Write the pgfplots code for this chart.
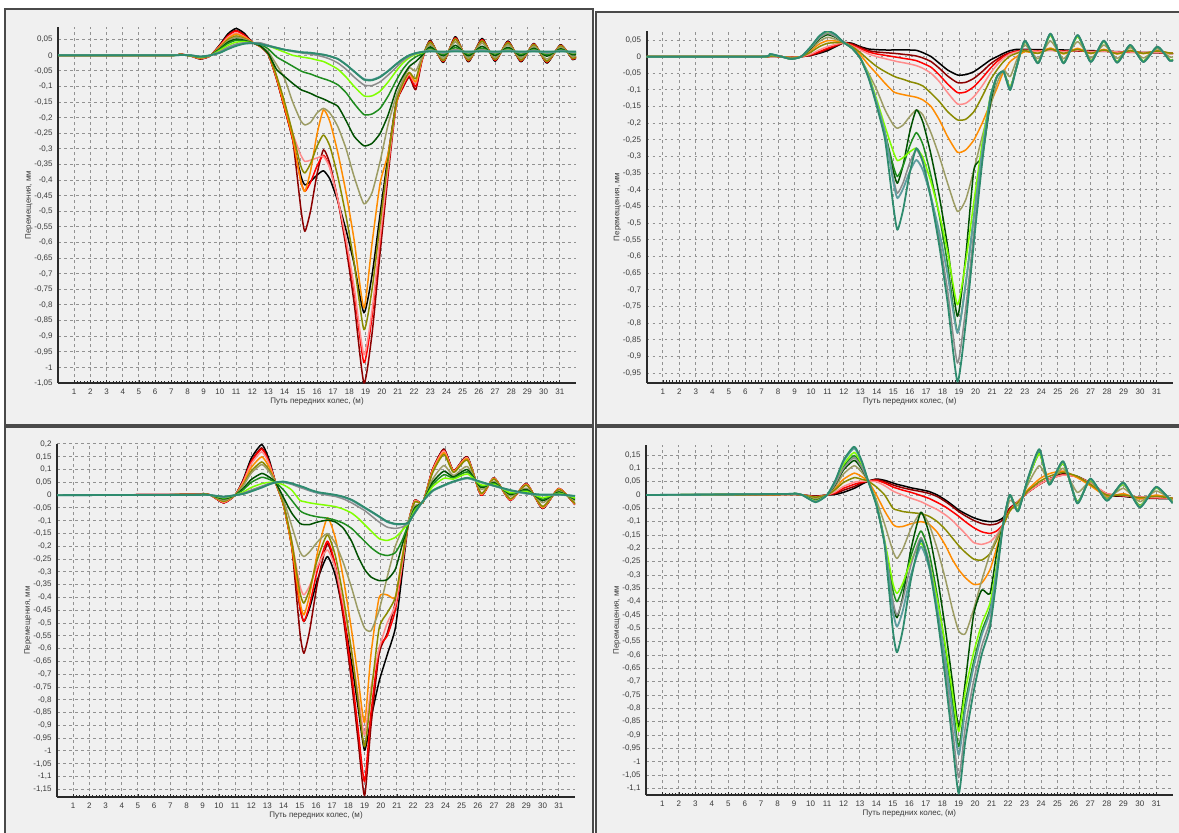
\documentclass[border=0pt]{standalone}
\usepackage{fontspec}
\setmainfont{Liberation Sans}
\usepackage{pgfplots}
\usepackage{pgfplotstable}
\pgfplotsset{compat=1.18}
\definecolor{bgc}{HTML}{F0F0F0}
\definecolor{bdc}{HTML}{4A4A4A}
\definecolor{axc}{HTML}{2A2A2A}
\definecolor{grc}{HTML}{929292}
\definecolor{txc}{HTML}{3A3A3A}
\definecolor{cK}{HTML}{000000}
\definecolor{cM}{HTML}{8B0000}
\definecolor{cR}{HTML}{FF0000}
\definecolor{cP}{HTML}{FF8C8C}
\definecolor{cO}{HTML}{FF8C00}
\definecolor{cOl}{HTML}{8A8A00}
\definecolor{cKh}{HTML}{9C9C64}
\definecolor{cDg}{HTML}{005000}
\definecolor{cG}{HTML}{1E8C1E}
\definecolor{cL}{HTML}{80FF00}
\definecolor{cGr}{HTML}{8C8C8C}
\definecolor{cCb}{HTML}{5F9EA0}
\definecolor{cSg}{HTML}{2E8B6E}

\pgfplotstableread[header=false]{
x 0 7 7.5 8.2 8.8 9.4 10 10.5 11 11.5 12 12.5 13 13.5 14 14.5 15 15.25 15.6 16 16.4 16.8 17.3 17.8 18.3 18.9 19.4 19.9 20.4 20.9 21.3 21.7 22.1 22.5 23 23.8 24.55 25.35 26.2 27 27.8 28.6 29.4 30.2 31.05 31.8 32
k 0 0 0.004 -0.002 -0.012 -0.002 0.034 0.069 0.086 0.071 0.042 0.028 0.002 -0.075 -0.17 -0.27 -0.386 -0.415 -0.404 -0.384 -0.37 -0.397 -0.47 -0.561 -0.67 -0.825 -0.705 -0.508 -0.317 -0.148 -0.1 -0.065 -0.09 -0.01 0.048 -0.023 0.060 -0.021 0.054 -0.019 0.046 -0.021 0.038 -0.025 0.034 -0.014 -0.007
m 0 0 0.004 -0.002 -0.011 -0.002 0.032 0.064 0.08 0.066 0.042 0.028 0.002 -0.075 -0.17 -0.27 -0.49 -0.564 -0.499 -0.381 -0.303 -0.348 -0.467 -0.617 -0.796 -1.05 -0.892 -0.632 -0.38 -0.157 -0.105 -0.07 -0.11 -0.015 0.045 -0.02 0.056 -0.018 0.05 -0.016 0.043 -0.018 0.036 -0.022 0.032 -0.012 -0.005
r 0 0 0.004 -0.002 -0.011 -0.002 0.031 0.062 0.078 0.064 0.042 0.028 0.002 -0.075 -0.17 -0.27 -0.403 -0.436 -0.407 -0.355 -0.32 -0.36 -0.466 -0.599 -0.759 -0.985 -0.838 -0.596 -0.362 -0.155 -0.1 -0.065 -0.1 -0.012 0.045 -0.02 0.056 -0.018 0.05 -0.016 0.043 -0.018 0.036 -0.022 0.032 -0.012 -0.005
p 0 0 0.003 -0.002 -0.01 -0.002 0.029 0.058 0.072 0.06 0.042 0.028 0.003 -0.07 -0.16 -0.25 -0.32 -0.34 -0.336 -0.329 -0.324 -0.362 -0.464 -0.591 -0.744 -0.96 -0.817 -0.582 -0.355 -0.154 -0.095 -0.06 -0.09 -0.01 0.042 -0.017 0.052 -0.015 0.046 -0.013 0.04 -0.015 0.034 -0.019 0.03 -0.01 -0.003
o 0 0 0.003 -0.002 -0.009 -0.001 0.027 0.054 0.068 0.058 0.042 0.028 0.004 -0.07 -0.165 -0.265 -0.403 -0.436 -0.371 -0.253 -0.175 -0.213 -0.315 -0.442 -0.594 -0.81 -0.603 -0.41 -0.313 -0.155 -0.09 -0.055 -0.085 -0.008 0.042 -0.017 0.052 -0.015 0.046 -0.013 0.04 -0.015 0.034 -0.019 0.03 -0.01 -0.003
ol 0 0 0.003 -0.001 -0.008 -0.001 0.025 0.05 0.062 0.054 0.041 0.029 0.005 -0.065 -0.15 -0.25 -0.355 -0.377 -0.347 -0.292 -0.255 -0.292 -0.392 -0.517 -0.667 -0.879 -0.75 -0.537 -0.333 -0.15 -0.09 -0.055 -0.075 -0.005 0.042 -0.017 0.052 -0.015 0.046 -0.013 0.04 -0.015 0.034 -0.019 0.03 -0.01 -0.003
kh 0 0 0.003 -0.001 -0.007 -0.001 0.023 0.046 0.058 0.052 0.041 0.03 0.01 -0.03 -0.075 -0.15 -0.21 -0.223 -0.215 -0.185 -0.17 -0.185 -0.23 -0.3 -0.39 -0.476 -0.44 -0.34 -0.22 -0.13 -0.08 -0.04 -0.05 -0.005 0.035 -0.01 0.043 -0.009 0.039 -0.008 0.034 -0.009 0.029 -0.012 0.026 -0.005 0
dg 0 0 0.002 -0.001 -0.006 -0.001 0.021 0.042 0.052 0.048 0.04 0.03 0.005 -0.045 -0.068 -0.09 -0.11 -0.115 -0.122 -0.132 -0.14 -0.15 -0.164 -0.21 -0.26 -0.29 -0.282 -0.25 -0.19 -0.11 -0.068 -0.036 -0.02 0 0.027 -0.002 0.032 -0.002 0.029 -0.001 0.026 -0.002 0.023 -0.003 0.021 0.001 0.004
g 0 0 0.002 -0.001 -0.005 -0.001 0.019 0.038 0.048 0.046 0.04 0.035 0.02 -0.005 -0.02 -0.035 -0.05 -0.055 -0.06 -0.068 -0.075 -0.082 -0.095 -0.12 -0.155 -0.19 -0.188 -0.17 -0.13 -0.08 -0.045 -0.02 -0.005 0.005 0.022 0.002 0.025 0.003 0.023 0.004 0.021 0.003 0.019 0.002 0.018 0.005 0.007
l 0 0 0.002 -0.001 -0.005 -0.001 0.016 0.032 0.042 0.043 0.04 0.038 0.03 0.02 0.01 0 -0.005 -0.007 -0.01 -0.015 -0.02 -0.03 -0.045 -0.07 -0.1 -0.13 -0.13 -0.115 -0.085 -0.05 -0.025 -0.008 0.003 0.008 0.017 0.007 0.019 0.008 0.018 0.008 0.017 0.008 0.016 0.007 0.015 0.008 0.009
gr 0 0 0.001 0 -0.004 0 0.012 0.026 0.036 0.04 0.04 0.04 0.032 0.025 0.018 0.012 0.008 0.006 0.004 0 -0.005 -0.012 -0.025 -0.045 -0.07 -0.095 -0.097 -0.085 -0.063 -0.038 -0.018 -0.004 0.005 0.01 0.017 0.007 0.019 0.008 0.018 0.008 0.017 0.008 0.016 0.007 0.015 0.008 0.009
cb 0 0 0.001 0 -0.004 0 0.009 0.021 0.032 0.038 0.039 0.036 0.03 0.024 0.018 0.014 0.01 0.009 0.008 0.005 0.002 -0.003 -0.012 -0.03 -0.052 -0.076 -0.078 -0.068 -0.05 -0.028 -0.012 0 0.007 0.011 0.014 0.01 0.014 0.011 0.014 0.011 0.014 0.011 0.013 0.01 0.013 0.011 0.011
sg 0 0 0.001 0 -0.004 0 0.008 0.02 0.03 0.037 0.039 0.036 0.03 0.024 0.018 0.014 0.01 0.009 0.008 0.005 0.002 -0.003 -0.012 -0.03 -0.052 -0.078 -0.08 -0.07 -0.05 -0.028 -0.012 0 0.007 0.011 0.012 0.012 0.012 0.012 0.012 0.012 0.012 0.012 0.012 0.012 0.012 0.012 0.012
}\TLraw

\pgfplotstableread[header=false]{
x 0 7 7.5 8.2 8.8 9.4 10 10.5 11 11.5 12 12.5 13 13.5 14 14.5 15 15.25 15.6 16 16.4 16.8 17.3 17.8 18.3 18.9 19.4 19.9 20.4 20.9 21.3 21.7 22.1 22.5 23 23.8 24.55 25.35 26.2 27 27.8 28.6 29.4 30.2 31.05 31.8 32
k 0 0 0.001 0 -0.002 0 0.004 0.01 0.018 0.03 0.042 0.04 0.03 0.023 0.021 0.02 0.02 0.02 0.02 0.02 0.019 0.012 0 -0.02 -0.04 -0.055 -0.054 -0.045 -0.028 -0.01 0 0.01 0.018 0.022 0.022 0.021 0.021 0.02 0.019 0.018 0.017 0.015 0.014 0.012 0.012 0.01 0.01
m 0 0 0.001 0 -0.002 0 0.004 0.012 0.022 0.032 0.042 0.038 0.028 0.018 0.014 0.012 0.01 0.009 0.007 0.005 0.002 -0.004 -0.015 -0.035 -0.058 -0.078 -0.077 -0.065 -0.045 -0.022 -0.008 0.004 0.012 0.017 0.019 0.018 0.019 0.017 0.017 0.016 0.016 0.014 0.013 0.012 0.012 0.01 0.01
r 0 0 0.001 0 -0.002 0 0.006 0.015 0.025 0.034 0.042 0.035 0.024 0.014 0.008 0.004 0 -0.002 -0.005 -0.008 -0.012 -0.02 -0.032 -0.055 -0.082 -0.108 -0.106 -0.09 -0.064 -0.035 -0.015 0 0.01 0.016 0.019 0.017 0.02 0.016 0.019 0.015 0.017 0.014 0.014 0.012 0.013 0.01 0.01
p 0 0 0.001 0 -0.002 0 0.008 0.02 0.03 0.037 0.042 0.032 0.02 0.008 0 -0.006 -0.012 -0.015 -0.018 -0.022 -0.027 -0.035 -0.05 -0.075 -0.108 -0.142 -0.14 -0.12 -0.088 -0.05 -0.025 -0.005 0.008 0.014 0.019 0.016 0.02 0.015 0.019 0.015 0.017 0.014 0.014 0.012 0.013 0.01 0.01
o 0 0 0.002 0 -0.003 0 0.019 0.038 0.048 0.047 0.042 0.028 0.005 -0.025 -0.052 -0.08 -0.105 -0.11 -0.114 -0.118 -0.122 -0.13 -0.15 -0.19 -0.24 -0.287 -0.28 -0.25 -0.2 -0.14 -0.095 -0.045 -0.015 0 0.015 0.01 0.026 0.008 0.025 0.009 0.022 0.008 0.019 0.009 0.018 0.01 0.01
ol 0 0 0.002 0 -0.003 0 0.014 0.03 0.04 0.042 0.042 0.03 0.012 -0.01 -0.03 -0.045 -0.058 -0.063 -0.068 -0.075 -0.08 -0.088 -0.11 -0.135 -0.165 -0.19 -0.188 -0.165 -0.12 -0.07 -0.04 -0.015 0.002 0.01 0.018 0.01 0.023 0.01 0.022 0.01 0.02 0.009 0.018 0.01 0.017 0.011 0.011
kh 0 0 0.004 0 -0.005 0 0.023 0.046 0.058 0.052 0.042 0.025 -0.005 -0.05 -0.1 -0.16 -0.205 -0.215 -0.205 -0.18 -0.16 -0.175 -0.23 -0.3 -0.38 -0.465 -0.43 -0.34 -0.24 -0.15 -0.08 -0.04 -0.06 -0.01 0.035 -0.006 0.047 -0.006 0.045 -0.004 0.035 -0.005 0.027 -0.004 0.024 -0.001 0
dg 0 0 0.006 0 -0.007 0 0.026 0.053 0.066 0.058 0.042 0.025 -0.005 -0.06 -0.14 -0.23 -0.343 -0.38 -0.325 -0.226 -0.16 -0.197 -0.296 -0.42 -0.569 -0.78 -0.6 -0.34 -0.3 -0.14 -0.06 -0.045 -0.095 -0.03 0.046 -0.018 0.066 -0.018 0.062 -0.014 0.046 -0.016 0.034 -0.014 0.029 -0.01 -0.009
g 0 0 0.006 0 -0.007 0 0.028 0.056 0.07 0.06 0.042 0.025 -0.005 -0.06 -0.14 -0.23 -0.328 -0.36 -0.327 -0.268 -0.228 -0.264 -0.36 -0.479 -0.623 -0.826 -0.681 -0.478 -0.282 -0.122 -0.06 -0.045 -0.095 -0.03 0.046 -0.018 0.066 -0.018 0.062 -0.014 0.046 -0.016 0.034 -0.014 0.029 -0.01 -0.009
l 0 0 0.006 0 -0.007 0 0.029 0.058 0.073 0.062 0.042 0.025 -0.005 -0.055 -0.13 -0.21 -0.285 -0.312 -0.303 -0.286 -0.275 -0.303 -0.378 -0.472 -0.585 -0.745 -0.616 -0.435 -0.261 -0.119 -0.06 -0.045 -0.09 -0.03 0.045 -0.017 0.064 -0.017 0.06 -0.013 0.045 -0.015 0.033 -0.013 0.029 -0.009 -0.008
gr 0 0 0.007 0 -0.007 0 0.028 0.056 0.07 0.06 0.042 0.025 -0.005 -0.06 -0.14 -0.23 -0.365 -0.41 -0.378 -0.319 -0.28 -0.318 -0.421 -0.549 -0.702 -0.92 -0.756 -0.526 -0.305 -0.125 -0.06 -0.045 -0.095 -0.03 0.048 -0.02 0.069 -0.02 0.065 -0.016 0.048 -0.018 0.035 -0.016 0.03 -0.012 -0.01
cb 0 0 0.008 0 -0.007 0 0.03 0.061 0.076 0.064 0.042 0.025 -0.005 -0.06 -0.14 -0.23 -0.376 -0.425 -0.396 -0.345 -0.31 -0.341 -0.424 -0.528 -0.653 -0.83 -0.684 -0.48 -0.283 -0.122 -0.06 -0.045 -0.1 -0.03 0.048 -0.02 0.069 -0.02 0.065 -0.016 0.048 -0.018 0.035 -0.016 0.03 -0.012 -0.01
sg 0 0 0.008 0 -0.007 0 0.031 0.062 0.078 0.066 0.042 0.025 -0.005 -0.065 -0.15 -0.25 -0.448 -0.52 -0.459 -0.349 -0.275 -0.317 -0.429 -0.569 -0.738 -0.976 -0.801 -0.556 -0.319 -0.126 -0.06 -0.045 -0.1 -0.03 0.048 -0.02 0.069 -0.02 0.065 -0.016 0.048 -0.018 0.035 -0.016 0.03 -0.012 -0.01
}\TRraw

\pgfplotstableread[header=false]{
x 0 8.5 9 9.5 10.3 11 11.5 12 12.65 13.1 13.5 14 14.5 15 15.25 15.6 16.1 16.7 17.2 17.7 18.2 18.6 19 19.4 19.9 20.4 20.9 21.3 21.7 22.1 22.6 23.2 23.9 24.5 25.35 26.2 27 28 29 30 31 32
k 0 0.003 0.006 0 -0.03 0 0.06 0.144 0.198 0.14 0.05 -0.04 -0.2 -0.435 -0.494 -0.443 -0.329 -0.24 -0.316 -0.467 -0.656 -0.83 -0.997 -0.872 -0.728 -0.624 -0.52 -0.32 -0.114 -0.02 -0.03 0.1 0.18 0.095 0.15 0 0.068 -0.02 0.045 -0.052 0.026 -0.037
m 0 0.003 0.006 0 -0.03 0 0.056 0.133 0.185 0.131 0.05 -0.04 -0.2 -0.534 -0.618 -0.532 -0.34 -0.19 -0.289 -0.486 -0.732 -0.958 -1.175 -0.9 -0.62 -0.54 -0.42 -0.27 -0.11 -0.02 -0.03 0.1 0.18 0.095 0.15 0 0.068 -0.02 0.045 -0.052 0.026 -0.037
r 0 0.003 0.006 0 -0.03 0 0.054 0.13 0.18 0.128 0.05 -0.04 -0.2 -0.435 -0.494 -0.431 -0.29 -0.18 -0.274 -0.462 -0.697 -0.913 -1.12 -0.85 -0.6 -0.55 -0.45 -0.29 -0.11 -0.02 -0.03 0.1 0.175 0.095 0.145 0 0.066 -0.02 0.044 -0.05 0.026 -0.036
p 0 0.003 0.005 0 -0.028 0 0.051 0.122 0.17 0.122 0.05 -0.035 -0.18 -0.352 -0.39 -0.355 -0.276 -0.214 -0.286 -0.431 -0.612 -0.779 -0.938 -0.75 -0.6 -0.5 -0.43 -0.28 -0.11 -0.022 -0.03 0.096 0.173 0.093 0.146 0.003 0.066 -0.018 0.043 -0.049 0.025 -0.035
o 0 0.002 0.005 0 -0.025 0 0.045 0.108 0.15 0.11 0.05 -0.04 -0.2 -0.414 -0.468 -0.392 -0.222 -0.089 -0.169 -0.329 -0.529 -0.713 -0.889 -0.62 -0.4 -0.39 -0.4 -0.25 -0.11 -0.025 -0.03 0.092 0.166 0.091 0.142 0.005 0.065 -0.016 0.041 -0.047 0.024 -0.034
ol 0 0.002 0.005 0 -0.024 0 0.039 0.094 0.13 0.098 0.05 -0.035 -0.18 -0.378 -0.422 -0.369 -0.248 -0.155 -0.238 -0.404 -0.611 -0.802 -0.984 -0.78 -0.52 -0.46 -0.4 -0.26 -0.11 -0.027 -0.029 0.087 0.159 0.089 0.137 0.008 0.063 -0.014 0.039 -0.044 0.022 -0.032
kh 0 0.002 0.004 0 -0.02 0 0.036 0.086 0.12 0.092 0.05 -0.02 -0.12 -0.22 -0.24 -0.222 -0.182 -0.15 -0.189 -0.266 -0.362 -0.45 -0.52 -0.53 -0.45 -0.32 -0.2 -0.14 -0.1 -0.042 -0.028 0.062 0.116 0.077 0.112 0.023 0.054 -0.003 0.027 -0.029 0.015 -0.022
dg 0 0.002 0.003 0 -0.015 0 0.026 0.061 0.085 0.071 0.05 -0.01 -0.07 -0.11 -0.115 -0.115 -0.105 -0.098 -0.105 -0.13 -0.18 -0.24 -0.29 -0.32 -0.334 -0.33 -0.29 -0.2 -0.115 -0.05 -0.027 0.05 0.094 0.071 0.1 0.03 0.049 0.003 0.022 -0.021 0.012 -0.017
g 0 0.001 0.003 0 -0.012 0 0.021 0.05 0.07 0.062 0.05 0.02 -0.02 -0.06 -0.07 -0.078 -0.085 -0.09 -0.098 -0.11 -0.13 -0.155 -0.18 -0.205 -0.228 -0.236 -0.225 -0.18 -0.115 -0.055 -0.027 0.041 0.08 0.067 0.091 0.035 0.046 0.007 0.018 -0.016 0.009 -0.014
l 0 0.001 0.002 0 -0.01 0 0.012 0.03 0.045 0.05 0.05 0.04 0.02 -0.02 -0.025 -0.03 -0.035 -0.04 -0.045 -0.055 -0.07 -0.09 -0.115 -0.14 -0.17 -0.177 -0.165 -0.14 -0.11 -0.06 -0.026 0.033 0.066 0.063 0.083 0.04 0.042 0.01 0.014 -0.01 0.007 -0.011
gr 0 0.001 0.002 0 -0.008 0 0.008 0.02 0.035 0.045 0.05 0.05 0.042 0.03 0.025 0.017 0.008 0 -0.005 -0.015 -0.03 -0.045 -0.06 -0.08 -0.105 -0.125 -0.13 -0.125 -0.11 -0.07 -0.025 0.016 0.037 0.052 0.066 0.05 0.036 0.018 0.006 0 0.002 -0.004
cb 0 0.001 0.002 0 -0.006 0 0.005 0.015 0.03 0.042 0.05 0.052 0.045 0.035 0.03 0.02 0.01 0.005 0 -0.008 -0.02 -0.035 -0.05 -0.065 -0.085 -0.105 -0.114 -0.114 -0.11 -0.07 -0.025 0.016 0.037 0.052 0.066 0.05 0.036 0.018 0.006 0 0.002 -0.004
sg 0 0.001 0.002 0 -0.006 0 0.005 0.015 0.03 0.042 0.05 0.053 0.046 0.036 0.031 0.022 0.012 0.006 0.001 -0.006 -0.018 -0.032 -0.048 -0.063 -0.083 -0.103 -0.112 -0.113 -0.108 -0.068 -0.023 0.018 0.039 0.054 0.068 0.052 0.037 0.02 0.008 0.002 0.003 -0.003
}\BLraw

\pgfplotstableread[header=false]{
x 0 8.5 9 9.5 10.3 11 11.5 12 12.65 13.1 13.5 14 14.5 15 15.25 15.6 16.1 16.7 17.2 17.7 18.2 18.6 19 19.4 19.9 20.4 20.9 21.3 21.7 22.1 22.6 23.2 23.9 24.5 25.35 26.2 27 28 29 30 31 32
k 0 0.002 0.003 0 -0.004 0 0.002 0.01 0.025 0.04 0.052 0.06 0.055 0.045 0.04 0.035 0.027 0.02 0.013 0 -0.019 -0.037 -0.056 -0.07 -0.085 -0.095 -0.1 -0.098 -0.085 -0.05 -0.025 0.01 0.04 0.06 0.08 0.07 0.045 0 -0.005 -0.012 -0.013 -0.014
m 0 0.002 0.003 0 -0.005 0 0.005 0.018 0.032 0.045 0.052 0.058 0.05 0.038 0.033 0.027 0.02 0.013 0.006 -0.006 -0.025 -0.043 -0.062 -0.078 -0.095 -0.107 -0.112 -0.108 -0.092 -0.05 -0.025 0.01 0.04 0.06 0.078 0.068 0.045 0.002 -0.004 -0.01 -0.012 -0.013
r 0 0.002 0.003 0 -0.006 0 0.008 0.025 0.04 0.048 0.052 0.055 0.045 0.03 0.025 0.018 0.01 -0.002 -0.013 -0.028 -0.045 -0.062 -0.08 -0.1 -0.122 -0.138 -0.144 -0.135 -0.11 -0.055 -0.025 0.01 0.04 0.06 0.075 0.068 0.045 0.005 -0.002 -0.008 -0.01 -0.012
p 0 0.002 0.003 0 -0.007 0 0.012 0.032 0.048 0.052 0.052 0.05 0.035 0.015 0.008 0 -0.012 -0.025 -0.04 -0.055 -0.075 -0.095 -0.12 -0.145 -0.178 -0.185 -0.175 -0.15 -0.112 -0.06 -0.025 0.01 0.04 0.06 0.075 0.068 0.045 0.005 -0.002 -0.008 -0.01 -0.012
o 0 0.002 0.004 0 -0.01 0 0.025 0.059 0.082 0.069 0.052 0 -0.06 -0.11 -0.119 -0.118 -0.108 -0.1 -0.11 -0.14 -0.19 -0.24 -0.28 -0.31 -0.335 -0.33 -0.28 -0.2 -0.115 -0.06 -0.028 0.02 0.06 0.08 0.09 0.065 0.035 -0.005 0.005 -0.015 0 -0.015
ol 0 0.002 0.003 0 -0.008 0 0.02 0.047 0.065 0.059 0.052 0.03 0 -0.05 -0.056 -0.062 -0.066 -0.07 -0.08 -0.1 -0.13 -0.16 -0.19 -0.215 -0.24 -0.244 -0.22 -0.17 -0.115 -0.06 -0.028 0.015 0.05 0.07 0.085 0.07 0.04 0 0 -0.01 -0.005 -0.012
kh 0 0.003 0.004 0 -0.015 0 0.033 0.079 0.11 0.086 0.052 -0.02 -0.11 -0.21 -0.238 -0.203 -0.126 -0.065 -0.111 -0.203 -0.318 -0.424 -0.51 -0.52 -0.43 -0.32 -0.22 -0.16 -0.11 -0.02 -0.04 0.04 0.11 0.05 0.1 0.01 0.05 -0.01 0.025 -0.025 0.015 -0.02
dg 0 0.004 0.005 0 -0.02 0 0.039 0.094 0.13 0.098 0.052 -0.035 -0.18 -0.404 -0.46 -0.381 -0.203 -0.065 -0.145 -0.306 -0.507 -0.692 -0.869 -0.7 -0.45 -0.356 -0.37 -0.22 -0.11 0 -0.055 0.055 0.155 0.042 0.118 -0.025 0.056 -0.017 0.04 -0.04 0.027 -0.027
g 0 0.004 0.006 0 -0.022 0 0.044 0.107 0.148 0.109 0.052 -0.035 -0.18 -0.356 -0.4 -0.347 -0.228 -0.135 -0.216 -0.378 -0.58 -0.766 -0.944 -0.777 -0.627 -0.51 -0.427 -0.277 -0.11 0 -0.058 0.058 0.162 0.041 0.12 -0.028 0.058 -0.019 0.043 -0.043 0.029 -0.029
l 0 0.004 0.006 0 -0.022 0 0.048 0.115 0.16 0.116 0.052 -0.03 -0.17 -0.331 -0.369 -0.331 -0.247 -0.181 -0.252 -0.393 -0.569 -0.732 -0.887 -0.732 -0.592 -0.483 -0.405 -0.265 -0.11 0 -0.055 0.055 0.155 0.042 0.118 -0.025 0.056 -0.017 0.04 -0.04 0.027 -0.027
gr 0 0.004 0.006 0 -0.024 0 0.042 0.1 0.14 0.104 0.052 -0.035 -0.18 -0.396 -0.45 -0.392 -0.262 -0.16 -0.25 -0.43 -0.655 -0.862 -1.06 -0.87 -0.699 -0.566 -0.471 -0.3 -0.11 0 -0.06 0.06 0.169 0.04 0.125 -0.03 0.06 -0.02 0.045 -0.045 0.03 -0.03
cb 0 0.004 0.006 0 -0.026 0 0.053 0.126 0.175 0.125 0.052 -0.035 -0.18 -0.431 -0.494 -0.434 -0.299 -0.194 -0.272 -0.428 -0.624 -0.803 -0.975 -0.802 -0.646 -0.525 -0.439 -0.283 -0.11 0 -0.06 0.06 0.169 0.04 0.125 -0.03 0.06 -0.02 0.045 -0.045 0.03 -0.03
sg 0 0.004 0.006 0 -0.027 0 0.054 0.13 0.181 0.129 0.052 -0.04 -0.19 -0.508 -0.59 -0.506 -0.316 -0.169 -0.265 -0.456 -0.695 -0.915 -1.12 -0.922 -0.739 -0.597 -0.496 -0.313 -0.11 0 -0.062 0.062 0.172 0.038 0.127 -0.032 0.062 -0.022 0.047 -0.047 0.031 -0.031
}\BRraw

\pgfplotstabletranspose[colnames from=0]{\TL}{\TLraw}
\pgfplotstabletranspose[colnames from=0]{\TR}{\TRraw}
\pgfplotstabletranspose[colnames from=0]{\BL}{\BLraw}
\pgfplotstabletranspose[colnames from=0]{\BR}{\BRraw}

\newcommand{\curves}[1]{%
  \addplot[cK] table[x=x,y=k]{#1};
  \addplot[cM] table[x=x,y=m]{#1};
  \addplot[cR] table[x=x,y=r]{#1};
  \addplot[cP] table[x=x,y=p]{#1};
  \addplot[cO] table[x=x,y=o]{#1};
  \addplot[cOl] table[x=x,y=ol]{#1};
  \addplot[cKh] table[x=x,y=kh]{#1};
  \addplot[cDg] table[x=x,y=dg]{#1};
  \addplot[cG] table[x=x,y=g]{#1};
  \addplot[cL] table[x=x,y=l]{#1};
  \addplot[cGr] table[x=x,y=gr]{#1};
  \addplot[cCb, line width=0.9pt] table[x=x,y=cb]{#1};
  \addplot[cSg, line width=0.9pt] table[x=x,y=sg]{#1};
}

\pgfplotsset{
  panel/.style={
    scale only axis, xmin=0, xmax=32,
    axis x line*=bottom, axis y line*=left,
    axis line style={line width=1pt, draw=axc},
    xtick={1,...,31}, minor x tick num=4,
    ytick distance=0.05,
    grid=major,
    major grid style={draw=grc, line width=0.5pt, dash pattern=on 1.3pt off 1.7pt},
    ytick style={draw=none},
    xtick style={draw=axc, line width=0.35pt},
    major tick length=1.6pt, minor tick length=1.2pt,
    tick label style={font=\fontsize{4}{5}\selectfont, text=txc},
    /pgf/number format/assume math mode=true,
    yticklabel style={/pgf/number format/.cd, use comma, fixed, precision=2, /tikz/.cd, anchor=east, inner sep=0pt, xshift=-2.5pt},
    xticklabel style={anchor=north, inner sep=0pt, yshift=-3pt},
    xlabel={Путь передних колес, (м)},
    ylabel={Перемещения, мм},
    label style={font=\fontsize{4}{5}\selectfont, text=txc},
    xlabel style={at={([yshift=-9.3pt]axis description cs:0.5,0)}, anchor=center},
    ylabel style={at={([xshift=-14.5pt]axis description cs:0,0.5)}, anchor=center},
    every axis plot/.append style={line width=0.75pt, line join=round, smooth, tension=0.35},
  },
}

\begin{document}
\begin{tikzpicture}
\useasboundingbox (0,0) rectangle (589.5pt,416pt);
\fill[white] (0,0) rectangle (589.5pt,416pt);
\begin{scope}
\clip (0,0) rectangle (589.5pt,416pt);
\filldraw[fill=bgc, draw=bdc, line width=1pt] (2.5pt,203.5pt) rectangle (296.5pt,411.5pt);
\filldraw[fill=bgc, draw=bdc, line width=1pt] (297.8pt,203.5pt) rectangle (596pt,410pt);
\filldraw[fill=bgc, draw=bdc, line width=1pt] (2.5pt,-5pt) rectangle (296.5pt,202.5pt);
\filldraw[fill=bgc, draw=bdc, line width=1pt] (297.8pt,-5pt) rectangle (596pt,202.5pt);
\end{scope}

\begin{axis}[panel, at={(29pt,224.5pt)}, anchor=south west, width=259pt, height=178pt, ymin=-1.05, ymax=0.0907]
\curves{\TL}
\end{axis}

\begin{axis}[panel, at={(323.25pt,224.65pt)}, anchor=south west, width=263.25pt, height=175.85pt, ymin=-0.979, ymax=0.077]
\curves{\TR}
\end{axis}

\begin{axis}[panel, at={(28.5pt,17.5pt)}, anchor=south west, width=259pt, height=176.5pt, ymin=-1.18, ymax=0.2]
\curves{\BL}
\end{axis}

\begin{axis}[panel, at={(323pt,18.5pt)}, anchor=south west, width=263.35pt, height=175pt, ymin=-1.125, ymax=0.1875]
\curves{\BR}
\end{axis}
\end{tikzpicture}
\end{document}
